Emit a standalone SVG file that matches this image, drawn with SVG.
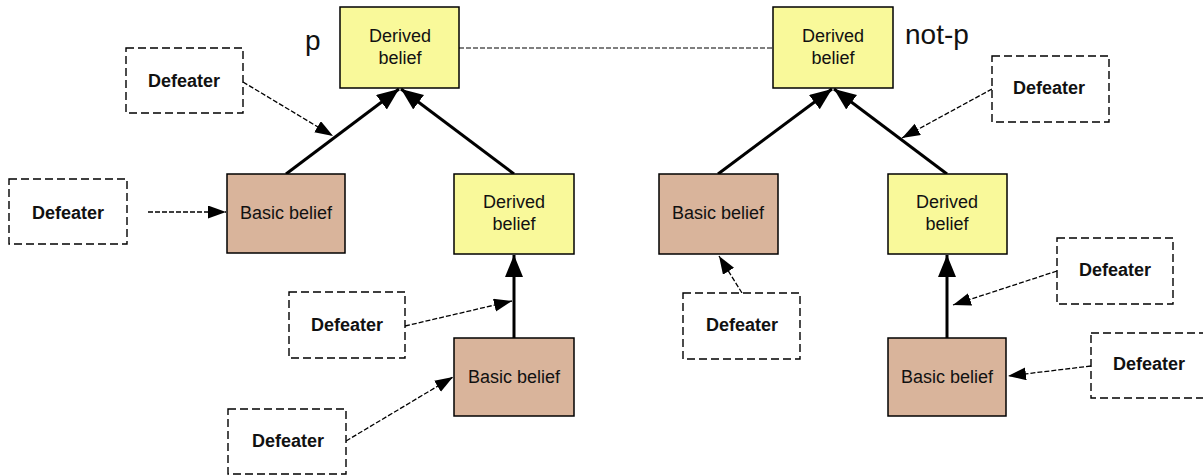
<svg xmlns="http://www.w3.org/2000/svg" width="1203" height="476" viewBox="0 0 1203 476">
  <style>
    .derived { fill: #f9f99a; stroke: #000; stroke-width: 1.5; }
    .basic { fill: #d9b49b; stroke: #000; stroke-width: 1.5; }
    .defeater { fill: #fff; stroke: #000; stroke-width: 1.4; stroke-dasharray: 8 4; }
    .lbl { font-family: "Liberation Sans", Arial, sans-serif; font-size: 18px; fill: #111; text-anchor: middle; }
    .bold { font-weight: bold; }
    .big { font-family: "Liberation Sans", Arial, sans-serif; font-size: 28px; fill: #111; }
    .support { stroke: #000; stroke-width: 3; fill: none; marker-end: url(#bigArrow); }
    .attack { stroke: #000; stroke-width: 1.3; stroke-dasharray: 5 2; fill: none; marker-end: url(#smallArrow); }
    .conflict { stroke: #000; stroke-width: 1.2; stroke-dasharray: 5 2; fill: none; }
  </style>
  <defs>
    <marker id="bigArrow" markerUnits="userSpaceOnUse" markerWidth="24" markerHeight="20" refX="22" refY="9" orient="auto">
      <path d="M0,0 L22,9 L0,18 Z" fill="#000"/>
    </marker>
    <marker id="smallArrow" markerUnits="userSpaceOnUse" markerWidth="20" markerHeight="14" refX="18" refY="6.5" orient="auto">
      <path d="M0,0 L18,6.5 L0,13 Z" fill="#000"/>
    </marker>
  </defs>

  <rect width="1203" height="476" fill="#fff"/>

  <g id="connectors">
    <line class="conflict" x1="459" y1="48" x2="773" y2="48"/>
    <line class="support" x1="286" y1="174" x2="399" y2="89"/>
    <line class="support" x1="514" y1="174" x2="401" y2="89"/>
    <line class="support" x1="514" y1="338" x2="514" y2="255"/>
    <line class="support" x1="718" y1="174" x2="832" y2="89"/>
    <line class="support" x1="947" y1="174" x2="834" y2="89"/>
    <line class="support" x1="947" y1="338" x2="947" y2="255"/>
    <path class="attack" d="M243,82 L333,136"/>
    <path class="attack" d="M148,212 L226,212"/>
    <path class="attack" d="M405,326 L512,301"/>
    <path class="attack" d="M346,441 L453,377"/>
    <path class="attack" d="M992,89 L902,138"/>
    <path class="attack" d="M742,293 L719,256"/>
    <path class="attack" d="M1057,271 L953,305"/>
    <path class="attack" d="M1091,366 L1008,376"/>
  </g>

  <text class="big" x="305" y="50">p</text>
  <text class="big" x="905" y="44">not-p</text>

  <g id="derived-p">
    <rect class="derived" x="340" y="7" width="119" height="81"/>
    <text class="lbl" x="400" y="42">Derived</text>
    <text class="lbl" x="400" y="64">belief</text>
  </g>
  <g id="derived-notp">
    <rect class="derived" x="773" y="7" width="120" height="81"/>
    <text class="lbl" x="833" y="42">Derived</text>
    <text class="lbl" x="833" y="64">belief</text>
  </g>
  <g id="basic-left">
    <rect class="basic" x="227" y="174" width="118" height="79"/>
    <text class="lbl" x="286" y="219">Basic belief</text>
  </g>
  <g id="derived-left">
    <rect class="derived" x="454" y="174" width="120" height="80"/>
    <text class="lbl" x="514" y="208">Derived</text>
    <text class="lbl" x="514" y="230">belief</text>
  </g>
  <g id="basic-left-low">
    <rect class="basic" x="454" y="338" width="120" height="78"/>
    <text class="lbl" x="514" y="383">Basic belief</text>
  </g>
  <g id="basic-right">
    <rect class="basic" x="659" y="174" width="119" height="80"/>
    <text class="lbl" x="718" y="219">Basic belief</text>
  </g>
  <g id="derived-right">
    <rect class="derived" x="888" y="174" width="119" height="80"/>
    <text class="lbl" x="947" y="208">Derived</text>
    <text class="lbl" x="947" y="230">belief</text>
  </g>
  <g id="basic-right-low">
    <rect class="basic" x="888" y="338" width="118" height="78"/>
    <text class="lbl" x="947" y="383">Basic belief</text>
  </g>

  <g id="defeater-1">
    <rect class="defeater" x="126" y="48" width="117" height="65"/>
    <text class="lbl bold" x="184" y="87">Defeater</text>
  </g>
  <g id="defeater-2">
    <rect class="defeater" x="9" y="179" width="118" height="65"/>
    <text class="lbl bold" x="68" y="219">Defeater</text>
  </g>
  <g id="defeater-3">
    <rect class="defeater" x="289" y="292" width="116" height="66"/>
    <text class="lbl bold" x="347" y="331">Defeater</text>
  </g>
  <g id="defeater-4">
    <rect class="defeater" x="228" y="409" width="118" height="65"/>
    <text class="lbl bold" x="288" y="447">Defeater</text>
  </g>
  <g id="defeater-5">
    <rect class="defeater" x="992" y="56" width="117" height="66"/>
    <text class="lbl bold" x="1049" y="94">Defeater</text>
  </g>
  <g id="defeater-6">
    <rect class="defeater" x="683" y="293" width="117" height="66"/>
    <text class="lbl bold" x="742" y="331">Defeater</text>
  </g>
  <g id="defeater-7">
    <rect class="defeater" x="1057" y="238" width="116" height="66"/>
    <text class="lbl bold" x="1115" y="276">Defeater</text>
  </g>
  <g id="defeater-8">
    <rect class="defeater" x="1091" y="333" width="114" height="65"/>
    <text class="lbl bold" x="1149" y="370">Defeater</text>
  </g>
</svg>
